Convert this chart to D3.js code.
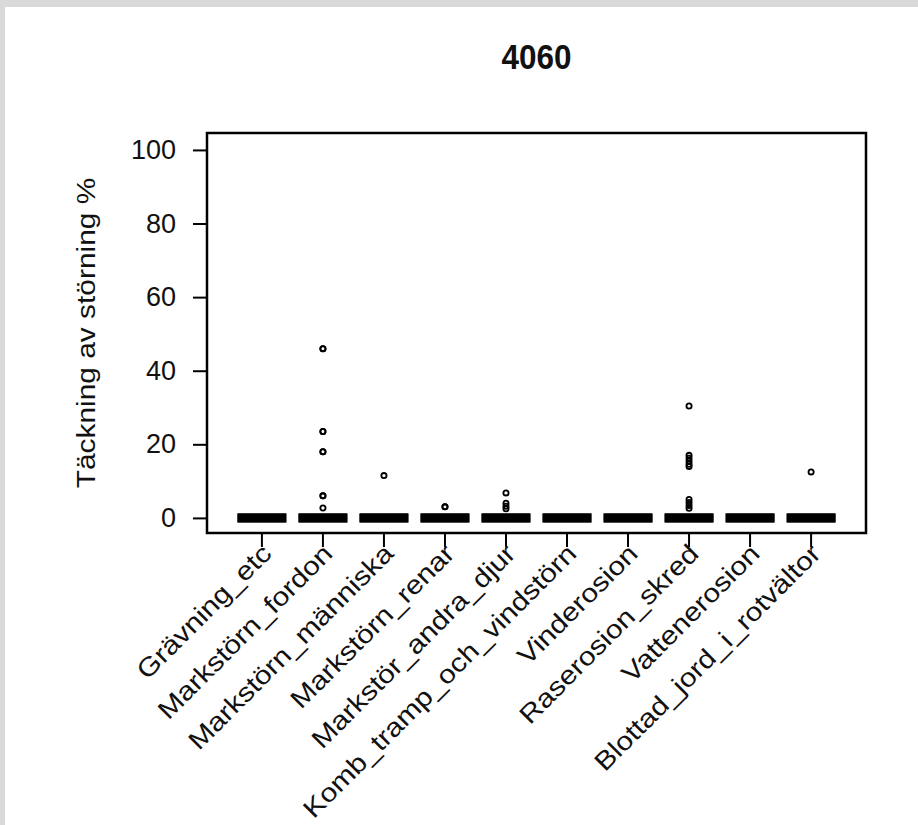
<!DOCTYPE html>
<html>
<head>
<meta charset="utf-8">
<title>4060</title>
<script src="https://d3js.org/d3.v7.min.js"></script>
<style>
  body { margin: 0; background: #d9d9d9; }
  svg { display: block; }
  text { font-family: "Liberation Sans", Arial, sans-serif; fill: #111; }
</style>
</head>
<body>
<script>
// categories along the x axis
var categories = [
  "Grävning_etc",
  "Markstörn_fordon",
  "Markstörn_människa",
  "Markstörn_renar",
  "Markstör_andra_djur",
  "Komb_tramp_och_vindstörn",
  "Vinderosion",
  "Raserosion_skred",
  "Vattenerosion",
  "Blottad_jord_i_rotvältor"
];

// box stats per category (all collapse to 0)
var q1 = [0, 0, 0, 0, 0, 0, 0, 0, 0, 0];
var medians = [0, 0, 0, 0, 0, 0, 0, 0, 0, 0];
var q3 = [0, 0, 0, 0, 0, 0, 0, 0, 0, 0];

// outliers
var outliers = [
  [],
  [46, 46, 23.5, 23.5, 18, 18, 6, 6, 2.7],
  [11.5],
  [3, 3],
  [6.8, 4, 3.2, 2.5],
  [],
  [],
  [30.4, 17, 16.2, 15.4, 14.6, 14, 5, 4.2, 3.4, 2.6],
  [],
  [12.5]
];

var yTicks = [0, 20, 40, 60, 80, 100];
var title = "4060";
var yTitle = "Täckning av störning %";

var W = 918, H = 825;
var plot = {left: 207, right: 866, top: 133, bottom: 533};
var stretch = 1.15; // the source text is rendered wide

var svg = d3.select("body").append("svg")
  .attr("width", W).attr("height", H);

// grey frame on top/left, white page
svg.append("rect").attr("x", 0).attr("y", 0).attr("width", W).attr("height", H).attr("fill", "#d9d9d9");
svg.append("rect").attr("x", 5).attr("y", 7).attr("width", W - 5).attr("height", H - 7).attr("fill", "#fff");

var x = d3.scaleLinear().domain([0.1, categories.length + 0.9]).range([plot.left, plot.right]);
var y = d3.scaleLinear().domain([-4.1, 104.6]).range([plot.bottom, plot.top]);
var boxW = (x(1) - x(0)) * 0.8;

// title
svg.append("text")
  .attr("x", (plot.left + plot.right) / 2)
  .attr("y", 69)
  .attr("text-anchor", "middle")
  .attr("font-size", 35)
  .attr("font-weight", "bold")
  .attr("textLength", 70)
  .attr("lengthAdjust", "spacingAndGlyphs")
  .text(title);

// y axis
var yAxis = svg.append("g")
  .attr("transform", "translate(" + plot.left + ",0)")
  .call(d3.axisLeft(y).tickValues(yTicks).tickSize(14).tickPadding(17));
yAxis.select(".domain").remove();
yAxis.selectAll(".tick line").attr("stroke", "#000").attr("stroke-width", 2);
yAxis.selectAll(".tick text")
  .attr("font-size", 27)
  .attr("font-family", "Liberation Sans, Arial, sans-serif")
  .attr("fill", "#222");

svg.append("text")
  .attr("transform", "translate(88," + ((plot.top + plot.bottom) / 2) + ") rotate(-90) scale(" + stretch + ",1)")
  .attr("text-anchor", "middle")
  .attr("dominant-baseline", "middle")
  .attr("font-size", 26)
  .text(yTitle);

// x ticks and labels
var idx = d3.range(categories.length);
var xg = svg.append("g");
xg.selectAll("line").data(idx).enter().append("line")
  .attr("x1", function(i) { return x(i + 1); })
  .attr("x2", function(i) { return x(i + 1); })
  .attr("y1", plot.bottom)
  .attr("y2", plot.bottom + 14)
  .attr("stroke", "#000").attr("stroke-width", 2);

xg.selectAll("text").data(idx).enter().append("text")
  .attr("transform", function(i) {
    return "translate(" + (x(i + 1) - 2) + "," + (plot.bottom + 9) + ") rotate(-45) scale(" + stretch + ",1)";
  })
  .attr("text-anchor", "end")
  .attr("dominant-baseline", "hanging")
  .attr("font-size", 26)
  .text(function(i) { return categories[i]; });

// boxes (collapsed to thick bars at 0)
var boxes = svg.append("g");
idx.forEach(function(i) {
  var cx = x(i + 1);
  var top = y(q3[i]), bot = y(q1[i]);
  boxes.append("rect")
    .attr("x", cx - boxW / 2).attr("y", top - 4.5)
    .attr("width", boxW).attr("height", bot - top + 9)
    .attr("fill", "#000");
  boxes.append("line")
    .attr("x1", cx - boxW / 2).attr("x2", cx + boxW / 2)
    .attr("y1", y(medians[i])).attr("y2", y(medians[i]))
    .attr("stroke", "#000").attr("stroke-width", 9);
  boxes.selectAll(null).data(outliers[i]).enter().append("circle")
    .attr("cx", cx)
    .attr("cy", function(v) { return y(v); })
    .attr("r", 2.6)
    .attr("fill", "none")
    .attr("stroke", "#000")
    .attr("stroke-width", 1.8);
});

// plot frame
svg.append("rect")
  .attr("x", plot.left).attr("y", plot.top)
  .attr("width", plot.right - plot.left).attr("height", plot.bottom - plot.top)
  .attr("fill", "none").attr("stroke", "#000").attr("stroke-width", 2.5);
</script>
</body>
</html>
